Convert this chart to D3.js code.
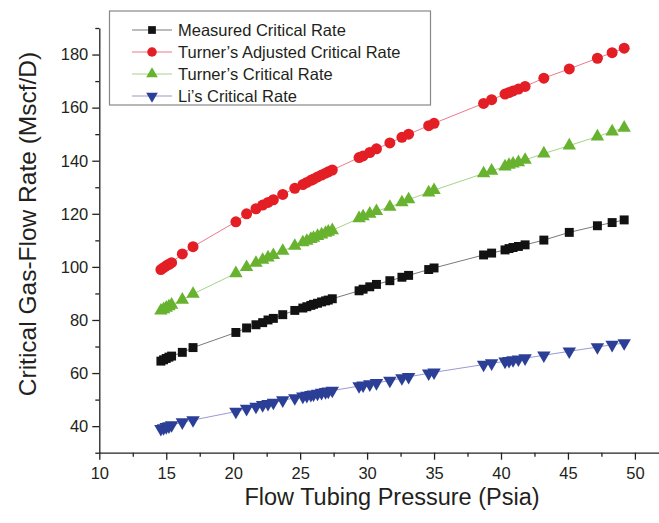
<!DOCTYPE html>
<html>
<head>
<meta charset="utf-8">
<script src="https://cdn.jsdelivr.net/npm/d3@7/dist/d3.min.js"></script>
<style>
  html, body { margin: 0; padding: 0; background: #fff; }
  svg { display: block; font-family: "Liberation Sans", Arial, Helvetica, sans-serif; }
</style>
</head>
<body>
<div id="chart"></div>
<script>
// flow tubing pressure (Psia), shared by all series
const pressure = [14.6, 14.8, 15.0, 15.2, 15.4, 16.2, 17.0, 20.2, 21.0, 21.7, 22.2, 22.6, 23.0, 23.7, 24.6,
  25.2, 25.5, 25.8, 26.0, 26.3, 26.6, 26.9, 27.1, 27.4, 29.4, 29.7, 30.2, 30.7, 31.7, 32.6, 33.1, 34.6, 35.0,
  38.7, 39.3, 40.3, 40.6, 40.9, 41.3, 41.8, 43.2, 45.1, 47.2, 48.3, 49.2];

const measuredRate = [64.5, 65.0, 65.5, 66.0, 66.4, 67.8, 69.6, 75.3, 77.0, 78.2, 79.0, 80.0, 80.6, 82.0, 83.6,
  84.5, 85.0, 85.5, 85.9, 86.3, 86.8, 87.2, 87.5, 88.0, 91.0, 91.6, 92.5, 93.4, 94.8, 96.1, 96.8, 99.0, 99.6,
  104.5, 105.2, 106.4, 106.9, 107.3, 107.7, 108.3, 110.1, 113.0, 115.5, 116.7, 117.7];

const turnerAdjRate = [99.0, 99.7, 100.4, 101.0, 101.6, 104.9, 107.6, 117.0, 120.0, 121.9, 123.3, 124.3, 125.3, 127.3, 129.6,
  131.0, 131.8, 132.6, 133.1, 133.9, 134.6, 135.3, 135.8, 136.5, 141.2, 141.8, 143.1, 144.5, 146.7, 148.8, 150.0, 153.2, 154.1,
  161.6, 163.0, 165.1, 165.7, 166.3, 167.0, 168.0, 171.1, 174.6, 178.6, 180.7, 182.4];

const turnerRate = [83.5, 84.0, 84.6, 85.1, 85.7, 87.6, 89.8, 97.6, 99.9, 101.5, 102.6, 103.5, 104.4, 106.0, 107.9,
  109.2, 109.8, 110.5, 110.9, 111.6, 112.2, 112.8, 113.2, 113.8, 118.3, 119.0, 120.0, 121.0, 122.6, 124.3, 125.4, 128.0, 128.9,
  135.2, 136.2, 137.8, 138.4, 138.9, 139.4, 140.3, 142.7, 145.7, 149.1, 151.0, 152.4];

const liRate = [39.0, 39.3, 39.7, 40.0, 40.4, 41.5, 42.3, 45.5, 46.6, 47.4, 48.0, 48.4, 48.9, 49.8, 50.6,
  51.2, 51.5, 51.8, 52.0, 52.3, 52.6, 52.9, 53.1, 53.4, 55.1, 55.4, 55.8, 56.3, 57.2, 58.1, 58.6, 59.9, 60.3,
  63.2, 63.7, 64.4, 64.6, 64.9, 65.2, 65.6, 66.7, 68.2, 69.8, 70.7, 71.3];

const seriesNames = ["Measured Critical Rate", "Turner\u2019s Adjusted Critical Rate", "Turner\u2019s Critical Rate", "Li\u2019s Critical Rate"];

const xMajorTicks = [10, 15, 20, 25, 30, 35, 40, 45, 50];
const yMajorTicks = [40, 60, 80, 100, 120, 140, 160, 180];

// styling per series
const series = [
  { name: seriesNames[0], values: measuredRate, symbol: d3.symbolSquare, size: 80, fill: "#121212", line: "#7a7a7a" },
  { name: seriesNames[1], values: turnerAdjRate, symbol: d3.symbolCircle, size: 95, fill: "#e31e24", line: "#ec7a8c" },
  { name: seriesNames[2], values: turnerRate, symbol: d3.symbolTriangle, size: 78, fill: "#67b22f", line: "#a6d38a" },
  { name: seriesNames[3], values: liRate, symbol: d3.symbolTriangle, size: 78, fill: "#2b3f97", line: "#9a9ad2", flip: true }
];

const width = 659, height = 523;
const textColor = "#231f20";

const svg = d3.select("#chart").append("svg")
  .attr("width", width)
  .attr("height", height);

const x = d3.scaleLinear().domain([10, 51.8]).range([99.3, 659]);
const y = d3.scaleLinear().domain([30, 190]).range([452.7, 28]);

// minor ticks
const xMinor = d3.range(12.5, 51.8, 5);
const yMinor = d3.range(30, 191, 20);

// x axis
svg.append("g")
  .attr("transform", `translate(0,${y(30)})`)
  .call(d3.axisBottom(x).tickValues(xMajorTicks).tickSize(7).tickSizeOuter(0).tickPadding(8).tickFormat(d3.format("d")));
svg.append("g")
  .attr("transform", `translate(0,${y(30)})`)
  .call(d3.axisBottom(x).tickValues(xMinor).tickSize(4).tickSizeOuter(0).tickFormat(""))
  .select(".domain").remove();

// y axis
svg.append("g")
  .attr("transform", `translate(${x(10)},0)`)
  .call(d3.axisLeft(y).tickValues(yMajorTicks).tickSize(7).tickSizeOuter(0).tickPadding(4).tickFormat(d3.format("d")));
svg.append("g")
  .attr("transform", `translate(${x(10)},0)`)
  .call(d3.axisLeft(y).tickValues(yMinor).tickSize(4).tickSizeOuter(0).tickFormat(""))
  .select(".domain").remove();

svg.selectAll(".domain, .tick line").attr("stroke", "#222").attr("stroke-width", 1.3);
svg.selectAll(".tick text")
  .attr("fill", textColor)
  .style("font-size", "16.5px");

// axis titles
svg.append("text")
  .attr("x", 392)
  .attr("y", 505)
  .attr("text-anchor", "middle")
  .attr("fill", textColor)
  .style("font-size", "23.5px")
  .text("Flow Tubing Pressure (Psia)");

svg.append("text")
  .attr("transform", `translate(36,${224}) rotate(-90)`)
  .attr("text-anchor", "middle")
  .attr("fill", textColor)
  .style("font-size", "24.5px")
  .text("Critical Gas-Flow Rate (Mscf/D)");

// series lines and markers
const line = d3.line()
  .x((d, i) => x(pressure[i]))
  .y(d => y(d));

series.forEach(s => {
  svg.append("path")
    .datum(s.values)
    .attr("fill", "none")
    .attr("stroke", s.line)
    .attr("stroke-width", 1)
    .attr("d", line);

  svg.append("g")
    .selectAll("path")
    .data(s.values)
    .join("path")
    .attr("d", d3.symbol().type(s.symbol).size(s.size))
    .attr("transform", (d, i) => `translate(${x(pressure[i])},${y(d)})${s.flip ? " rotate(180)" : ""}`)
    .attr("fill", s.fill);
});

// legend
const legend = svg.append("g");
legend.append("rect")
  .attr("x", 109.5)
  .attr("y", 11)
  .attr("width", 321)
  .attr("height", 94)
  .attr("fill", "#fff")
  .attr("stroke", "#888")
  .attr("stroke-width", 1.2);

series.forEach((s, i) => {
  const ly = 30 + i * 22;
  legend.append("line")
    .attr("x1", 132).attr("x2", 172)
    .attr("y1", ly).attr("y2", ly)
    .attr("stroke", s.line)
    .attr("stroke-width", 1.2);
  legend.append("path")
    .attr("d", d3.symbol().type(s.symbol).size(s.size * 0.75))
    .attr("transform", `translate(152,${ly})${s.flip ? " rotate(180)" : ""}`)
    .attr("fill", s.fill);
  legend.append("text")
    .attr("x", 178)
    .attr("y", ly)
    .attr("dy", "0.36em")
    .attr("fill", textColor)
    .style("font-size", "16.5px")
    .text(s.name);
});
</script>
</body>
</html>
